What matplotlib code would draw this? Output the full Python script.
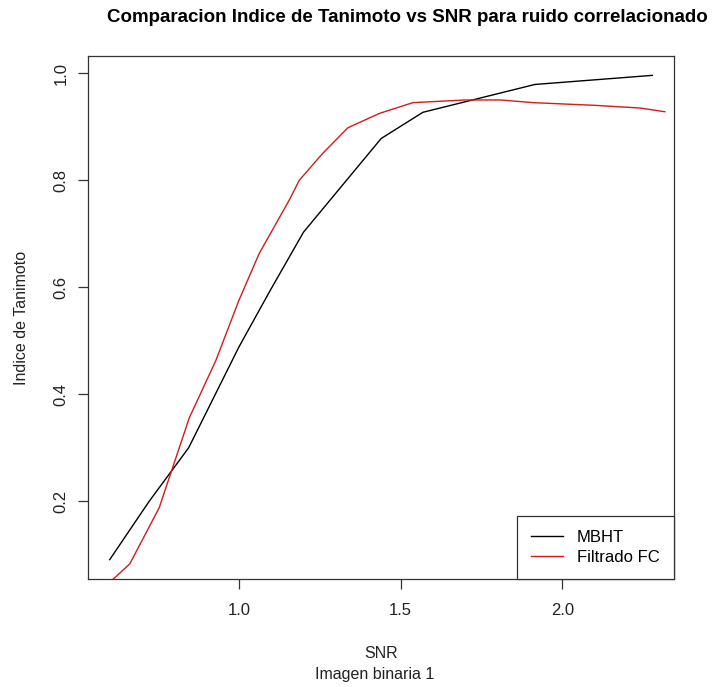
import matplotlib
matplotlib.use("Agg")
import matplotlib.pyplot as plt

plt.rcParams['font.family'] = ['Liberation Sans', 'DejaVu Sans']

# Tanimoto index against SNR, correlated noise
snr_mbht = [0.601, 0.723, 0.845, 1.000, 1.097, 1.200, 1.440, 1.569, 1.915, 2.278]
tan_mbht = [0.091, 0.200, 0.300, 0.488, 0.594, 0.703, 0.878, 0.927, 0.979, 0.996]

snr_fc = [0.600, 0.663, 0.754, 0.847, 0.929, 1.000, 1.063, 1.156, 1.187, 1.259,
          1.337, 1.435, 1.538, 1.700, 1.810, 1.910, 2.100, 2.240, 2.317]
tan_fc = [0.048, 0.083, 0.188, 0.356, 0.463, 0.575, 0.663, 0.763, 0.800, 0.850,
          0.898, 0.925, 0.945, 0.950, 0.950, 0.945, 0.940, 0.935, 0.928]

xticks = [1.0, 1.5, 2.0]
yticks = [0.2, 0.4, 0.6, 0.8, 1.0]

W, H = 715, 687
fig = plt.figure(figsize=(W / 100, H / 100), dpi=100)
ax = fig.add_axes([88 / W, 1 - 579 / H, 586 / W, 523 / H])

ax.plot(snr_mbht, tan_mbht, color='black', lw=1.0, label='MBHT')
ax.plot(snr_fc, tan_fc, color='#d01c1c', lw=1.0, label='Filtrado FC')

# R style: 4% padding around the first series
xr = max(snr_mbht) - min(snr_mbht)
yr = max(tan_mbht) - min(tan_mbht)
ax.set_xlim(min(snr_mbht) - 0.04 * xr, max(snr_mbht) + 0.04 * xr)
ax.set_ylim(min(tan_mbht) - 0.04 * yr, max(tan_mbht) + 0.04 * yr)

ax.set_xticks(xticks)
ax.set_xticklabels([f"{t:.1f}" for t in xticks])
ax.set_yticks(yticks)
ax.set_yticklabels([f"{t:.1f}" for t in yticks], rotation=90, va='center')
ax.tick_params(axis='both', direction='out', length=7, width=0.9,
               color='#333333', labelsize=12, labelcolor='#222222')
ax.tick_params(axis='x', pad=10)
ax.tick_params(axis='y', pad=7)
for s in ax.spines.values():
    s.set_color('#333333')
    s.set_linewidth(0.9)

leg = ax.legend(loc='lower right', borderaxespad=0, fancybox=False,
                edgecolor='#333333', framealpha=1, fontsize=12,
                handlelength=1.9, handletextpad=0.85, borderpad=0.85,
                labelspacing=0.3)
leg.get_frame().set_linewidth(0.9)

fig.text(407 / W, 1 - 17 / H, 'Comparacion Indice de Tanimoto vs SNR para ruido correlacionado',
         ha='center', va='center', fontsize=13.5, fontweight='bold')
fig.text(381 / W, 1 - 654 / H, 'SNR', ha='center', va='center', fontsize=11.5, color='#222222')
fig.text(375 / W, 1 - 675 / H, 'Imagen binaria 1', ha='center', va='center', fontsize=11.5, color='#222222')
fig.text(22 / W, 1 - 318 / H, 'Indice de Tanimoto', ha='center', va='center', rotation=90,
         fontsize=11.5, color='#222222')

fig.savefig('out.png', dpi=100)
